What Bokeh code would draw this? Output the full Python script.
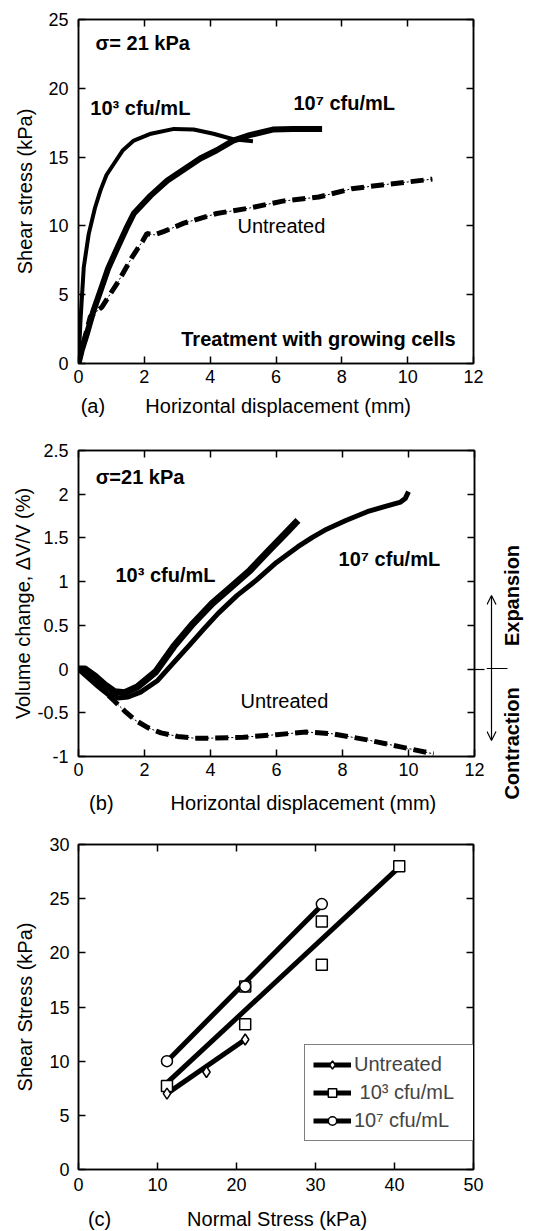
import math
from bokeh.plotting import figure
from bokeh.layouts import column, row
from bokeh.models import (Range1d, LinearAxis, Label, Arrow, OpenHead, Legend, LegendItem)
from bokeh.embed import file_html
from bokeh.resources import INLINE

FONT = "Liberation Sans"

# ---------------- Panel (a): shear stress vs horizontal displacement ----------------
a_x_1e3 = [0, 0.03, 0.06, 0.16, 0.31, 0.5, 0.67, 0.85, 1.07, 1.35, 1.68, 2.2, 2.9, 3.5, 4.1, 4.7, 5.3]
a_y_1e3 = [0, 1.5, 3.1, 7.0, 9.4, 11.3, 12.6, 13.7, 14.5, 15.5, 16.2, 16.7, 17.05, 17.0, 16.7, 16.3, 16.15]
a_x_1e7 = [0, 0.1, 0.26, 0.45, 0.67, 0.9, 1.18, 1.45, 1.68, 2.19, 2.7, 3.2, 3.7, 4.2, 4.7, 5.2, 5.9, 6.5, 7.4]
a_y_1e7 = [0, 1.0, 2.2, 3.8, 5.3, 6.9, 8.4, 9.8, 10.9, 12.2, 13.3, 14.1, 14.9, 15.5, 16.2, 16.6, 17.0, 17.05, 17.05]
a_x_unt = [0, 0.15, 0.36, 0.71, 1.22, 1.62, 1.95, 2.08, 2.3, 2.6, 3.2, 4.2, 5.2, 6.2, 7.3, 8.3, 9.3, 10.75]
a_y_unt = [0, 1.5, 3.4, 4.1, 6.0, 7.7, 8.9, 9.45, 9.35, 9.6, 10.2, 10.9, 11.3, 11.8, 12.1, 12.7, 13.0, 13.4]
a_xticks = [0, 2, 4, 6, 8, 10, 12]
a_yticks = [0, 5, 10, 15, 20, 25]

# ---------------- Panel (b): volume change vs horizontal displacement ----------------
b_x_1e3 = [0, 0.2, 0.5, 0.8, 1.1, 1.4, 1.8, 2.34, 2.89, 3.47, 4.05, 4.63, 5.2, 5.78, 6.27, 6.65]
b_y_1e3 = [0, 0.0, -0.08, -0.18, -0.26, -0.27, -0.2, -0.03, 0.26, 0.52, 0.75, 0.94, 1.13, 1.36, 1.55, 1.7]
b_x_1e7 = [0, 0.3, 0.6, 0.9, 1.2, 1.5, 1.9, 2.4, 2.85, 3.33, 3.8, 4.24, 4.8, 5.4, 6.0, 6.65, 7.1, 7.52, 8.1, 8.75, 9.3, 9.76, 9.9, 10.0]
b_y_1e7 = [0, -0.1, -0.2, -0.29, -0.33, -0.32, -0.26, -0.13, 0.06, 0.26, 0.46, 0.64, 0.84, 1.02, 1.22, 1.4, 1.51, 1.6, 1.7, 1.8, 1.86, 1.91, 1.95, 2.03]
b_x_unt = [0, 0.5, 1.07, 1.4, 1.7, 2.1, 2.5, 3.0, 3.5, 4.0, 5.0, 6.0, 6.9, 7.7, 8.75, 9.76, 10.76]
b_y_unt = [0, -0.15, -0.36, -0.48, -0.58, -0.67, -0.73, -0.77, -0.79, -0.79, -0.78, -0.75, -0.72, -0.74, -0.81, -0.89, -0.97]
b_xticks = [0, 2, 4, 6, 8, 10, 12]
b_yticks = [-1, -0.5, 0, 0.5, 1, 1.5, 2, 2.5]
b_ylabels = ["-1", "-0.5", "0", "0.5", "1", "1.5", "2", "2.5"]

# ---------------- Panel (c): shear stress vs normal stress ----------------
c_unt_x = [11.2, 16.2, 21.1]
c_unt_y = [7.0, 9.0, 12.0]
c_unt_fit_x = [11.2, 21.1]
c_unt_fit_y = [7.0, 12.0]
c_1e3_x = [11.2, 21.1, 21.1, 30.8, 30.8, 40.6]
c_1e3_y = [7.7, 13.4, 16.9, 22.9, 18.9, 28.0]
c_1e3_fit_x = [11.2, 40.3]
c_1e3_fit_y = [8.0, 27.7]
c_1e7_x = [11.2, 21.1, 30.8]
c_1e7_y = [10.0, 16.9, 24.5]
c_1e7_fit_x = [11.2, 30.8]
c_1e7_fit_y = [10.0, 24.4]
c_xticks = [0, 10, 20, 30, 40, 50]
c_yticks = [0, 5, 10, 15, 20, 25, 30]
c_labels = ["Untreated", " 10\u00b3 cfu/mL", "10\u2077 cfu/mL"]


def style(p, xticks, yticks, ylabels=None, xstand=6, ystand=10, ytitle_stand=8):
    bottom = p.below[0]
    left = p.left[0]
    p.grid.visible = False
    p.outline_line_color = "black"
    p.outline_line_width = 1.5
    p.background_fill_color = "white"
    p.border_fill_color = "white"
    bottom.ticker = xticks
    left.ticker = yticks
    if ylabels is not None:
        left.major_label_overrides = {float(v): s for v, s in zip(yticks, ylabels)}
    top = LinearAxis(ticker=xticks)
    right = LinearAxis(ticker=yticks)
    p.add_layout(top, "above")
    p.add_layout(right, "right")
    for ax in [bottom, left, top, right]:
        ax.major_tick_in = 7
        ax.major_tick_out = 0
        ax.minor_tick_line_color = None
        ax.axis_line_width = 1.5
        ax.major_tick_line_width = 1.5
        ax.major_label_text_font = FONT
        ax.major_label_text_font_size = "18px"
        ax.major_label_text_color = "black"
        ax.axis_label_text_font = FONT
        ax.axis_label_text_font_size = "20px"
        ax.axis_label_text_font_style = "normal"
        ax.axis_label_text_color = "black"
    for ax in [top, right]:
        ax.major_label_text_font_size = "1px"
        ax.major_label_text_color = None
        ax.major_label_standoff = 0
    bottom.major_label_standoff = xstand
    left.major_label_standoff = ystand
    left.axis_label_standoff = ytitle_stand


def lab(p, x, y, text, bold=False, align="left", angle=0.0, size="20px"):
    p.add_layout(Label(x=x, y=y, text=text, text_font=FONT, text_font_size=size,
                       text_font_style="bold" if bold else "normal", text_align=align,
                       text_baseline="middle", angle=angle, text_color="black"))


def blank(width, height, top_px):
    # plain area whose data coordinates are page pixels (y grows downward)
    s = figure(width=width, height=height, x_range=Range1d(0, width),
               y_range=Range1d(top_px + height, top_px), output_backend="svg",
               toolbar_location=None, x_axis_type=None, y_axis_type=None,
               min_border=0, min_border_left=0, min_border_right=0,
               min_border_top=0, min_border_bottom=0)
    s.grid.visible = False
    s.outline_line_color = None
    s.background_fill_color = "white"
    s.border_fill_color = "white"
    return s


# ================= figure (a) =================
pa = figure(width=545, height=392, x_range=Range1d(0, 12), y_range=Range1d(0, 25),
            output_backend="svg", toolbar_location=None,
            min_border_left=78, min_border_right=72, min_border_top=19, min_border_bottom=29,
            y_axis_label="Shear stress (kPa)")
style(pa, a_xticks, a_yticks, xstand=6, ystand=10, ytitle_stand=9)
pa.line(a_x_unt, a_y_unt, line_color="black", line_width=1, line_dash="2 2")
pa.line(a_x_unt, a_y_unt, line_color="black", line_width=5, line_dash="13 7")
pa.line(a_x_1e3, a_y_1e3, line_color="black", line_width=4, line_join="round")
pa.line(a_x_1e7, a_y_1e7, line_color="black", line_width=6, line_join="round")
lab(pa, 0.52, 23.3, "\u03c3= 21 kPa", bold=True)
lab(pa, 0.36, 18.6, "10\u00b3 cfu/mL", bold=True)
lab(pa, 6.53, 18.9, "10\u2077 cfu/mL", bold=True)
lab(pa, 4.83, 9.96, "Untreated")
lab(pa, 11.46, 1.8, "Treatment with growing cells", bold=True, align="right")

sa = blank(545, 33, 392)
lab(sa, 3, 405, "(a)")
lab(sa, 275.5, 405, "Horizontal displacement (mm)", align="center")

# ================= figure (b) =================
pb = figure(width=486, height=360, x_range=Range1d(0, 12), y_range=Range1d(-1, 2.5),
            output_backend="svg", toolbar_location=None,
            min_border_left=78, min_border_right=12, min_border_top=25, min_border_bottom=29,
            y_axis_label="Volume change, \u0394V/V (%)")
style(pb, b_xticks, b_yticks, b_ylabels, xstand=6, ystand=10, ytitle_stand=0)
zero_tick = LinearAxis(ticker=[0], major_tick_in=0, major_tick_out=10, axis_line_color=None,
                       major_tick_line_width=1.2, minor_tick_line_color=None,
                       major_label_text_font_size="1px", major_label_text_color=None,
                       major_label_standoff=0)
pb.add_layout(zero_tick, "right")
pb.line(b_x_unt, b_y_unt, line_color="black", line_width=1, line_dash="2 2")
pb.line(b_x_unt, b_y_unt, line_color="black", line_width=5, line_dash="13 7")
pb.line(b_x_1e7, b_y_1e7, line_color="black", line_width=5, line_join="round")
pb.line(b_x_1e3, b_y_1e3, line_color="black", line_width=7, line_join="round")
lab(pb, 0.52, 2.2, "\u03c3=21 kPa", bold=True)
lab(pb, 1.12, 1.075, "10\u00b3 cfu/mL", bold=True)
lab(pb, 7.88, 1.26, "10\u2077 cfu/mL", bold=True)
lab(pb, 4.91, -0.37, "Untreated")

sb = blank(486, 45, 785)
lab(sb, 13, 802, "(b)")
lab(sb, 276, 802, "Horizontal displacement (mm)", align="center")

side = figure(width=59, height=405, x_range=Range1d(486, 545), y_range=Range1d(830, 425),
              output_backend="svg", toolbar_location=None, x_axis_type=None, y_axis_type=None,
              min_border=0, min_border_left=0, min_border_right=0, min_border_top=0,
              min_border_bottom=0)
side.grid.visible = False
side.outline_line_color = None
side.background_fill_color = "white"
side.border_fill_color = "white"
lab(side, 511, 595, "Expansion", bold=True, align="center", angle=math.pi / 2)
lab(side, 511, 743, "Contraction", bold=True, align="center", angle=math.pi / 2)
side.add_layout(Arrow(x_start=491, y_start=668, x_end=491, y_end=595, line_width=1.2,
                      end=OpenHead(size=9, line_width=1.2)))
side.add_layout(Arrow(x_start=491, y_start=668, x_end=491, y_end=740, line_width=1.2,
                      end=OpenHead(size=9, line_width=1.2)))
side.add_layout(Arrow(x_start=486, y_start=668, x_end=507, y_end=668, line_width=1.2, end=None))

# ================= figure (c) =================
pc = figure(width=545, height=370, x_range=Range1d(0, 50), y_range=Range1d(0, 30),
            output_backend="svg", toolbar_location=None,
            min_border_left=77, min_border_right=71, min_border_top=14, min_border_bottom=31,
            y_axis_label="Shear Stress (kPa)")
style(pc, c_xticks, c_yticks, xstand=8, ystand=9, ytitle_stand=10)
l1 = pc.line(c_unt_fit_x, c_unt_fit_y, line_color="black", line_width=5)
l2 = pc.line(c_1e3_fit_x, c_1e3_fit_y, line_color="black", line_width=5)
l3 = pc.line(c_1e7_fit_x, c_1e7_fit_y, line_color="black", line_width=5)
s2 = pc.scatter(c_1e3_x, c_1e3_y, marker="square", size=11, fill_color="white",
                line_color="black", line_width=1.5)
s3 = pc.scatter(c_1e7_x, c_1e7_y, marker="circle", size=11, fill_color="white",
                line_color="black", line_width=1.5)
s1 = pc.scatter(c_unt_x, c_unt_y, marker="diamond", size=11, fill_color="white",
                line_color="black", line_width=1.5)
legend = Legend(items=[LegendItem(label=c_labels[0], renderers=[l1, s1]),
                       LegendItem(label=c_labels[1], renderers=[l2, s2]),
                       LegendItem(label=c_labels[2], renderers=[l3, s3])],
                location=(226, 28), label_text_font=FONT, label_text_font_size="20px",
                border_line_color="black", border_line_width=1.5, background_fill_alpha=1,
                glyph_width=38, glyph_height=21, label_height=21, label_width=112,
                spacing=5, padding=8, label_standoff=3, margin=0)
pc.add_layout(legend)

sc = blank(545, 31, 1200)
lab(sc, 13, 1218, "(c)")
lab(sc, 274, 1218, "Normal Stress (kPa)", align="center")

page = column(pa, sa, row(column(pb, sb, spacing=0), side, spacing=0), pc, sc, spacing=0)
open("out.html", "w").write(file_html(page, INLINE))
